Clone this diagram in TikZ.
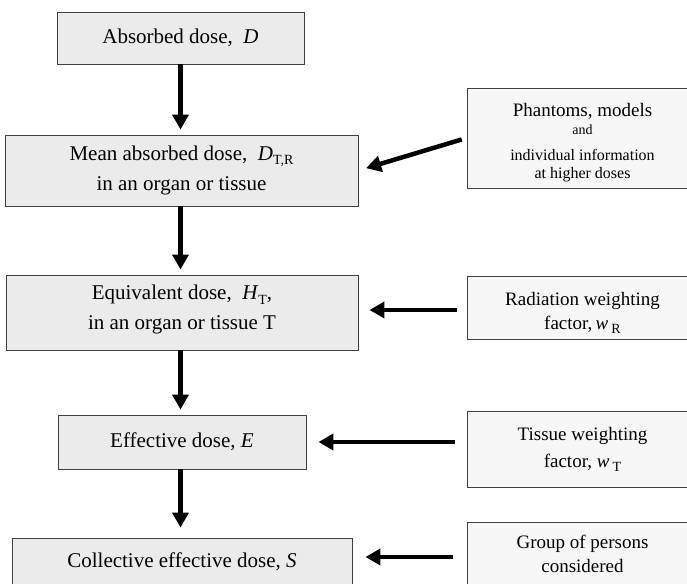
\documentclass[tikz,border=0pt]{standalone}
\usepackage{fontspec}
\setmainfont{Liberation Serif}
\usetikzlibrary{calc, arrows.meta}

\newcommand{\lowsub}[1]{\raisebox{-0.45ex}{\fontsize{14}{14}\selectfont #1}}

\tikzset{
    dosebox/.style = {draw = black!75, fill = black!8, line width = 0.9pt, inner sep = 0pt, align = center, font = \fontsize{21}{30}\selectfont},
    inputbox/.style = {draw = black!75, fill = black!3, line width = 0.9pt, inner sep = 0pt, align = center, font = \fontsize{19}{24}\selectfont},
    flow/.style = {black, line width = 4.5pt, -{Triangle[length = 15pt, width = 16pt]}}
}

\begin{document}
\begin{tikzpicture}[x = 1pt, y = -1pt]
            \useasboundingbox (0, 0) rectangle (687, 583);
            \clip (0, 0) rectangle (687, 583);
            
            \coordinate (left_col) at (182, 0);
            \coordinate (right_col) at (582.5, 0);
            
            % dose chain
            \node[dosebox, minimum width = 247pt, minimum height = 52pt] (absorbed) at ($(left_col) + (-1.5, 38)$) {Absorbed dose,~ \textit{D}};
            \node[dosebox, minimum width = 353pt, minimum height = 71pt] (mean) at ($(left_col) + (-0.5, 170.5)$) {Mean absorbed dose,~ \textit{D}\lowsub{T,R}\\in an organ or tissue};
            \node[dosebox, minimum width = 352pt, minimum height = 75pt] (equiv) at ($(left_col) + (0, 312.5)$) {Equivalent dose,~ \textit{H}\lowsub{T},\\in an organ or tissue T\rule[-10pt]{0pt}{10pt}};
            \node[dosebox, minimum width = 248pt, minimum height = 54pt] (effective) at ($(left_col) + (0, 442)$) {Effective dose, \textit{E}};
            \node[dosebox, minimum width = 340pt, minimum height = 48pt] (collective) at ($(left_col) + (0, 562)$) {Collective effective dose, \textit{S}};
            
            % inputs
            \node[inputbox, minimum width = 231pt, minimum height = 100pt] (phantoms) at ($(right_col) + (0, 138)$) {\rule{0pt}{22pt}Phantoms, models\\[-6pt]{\fontsize{14}{14}\selectfont and}\\[2pt]{\fontsize{16}{16}\selectfont individual information}\\[-6pt]{\fontsize{16}{16}\selectfont at higher doses}};
            \node[inputbox, minimum width = 231pt, minimum height = 63pt] (radiation) at ($(right_col) + (0, 307.5)$) {\rule{0pt}{24pt}Radiation weighting\\factor,\,\textit{w}\,\lowsub{R}};
            \node[inputbox, minimum width = 231pt, minimum height = 76pt] (tissue) at ($(right_col) + (0, 449)$) {Tissue weighting\\[3pt]factor, \textit{w}\,\lowsub{T}};
            \node[inputbox, minimum width = 231pt, minimum height = 63pt] (group) at ($(right_col) + (0, 553.5)$) {Group of persons\\considered};
            
            \draw[flow, shorten >= 5pt] (absorbed.south) -- (absorbed.south |- mean.north);
            \draw[flow, shorten >= 5pt] (mean.south -| absorbed.south) -- (absorbed.south |- equiv.north);
            \draw[flow, shorten >= 5pt] (equiv.south -| absorbed.south) -- (absorbed.south |- effective.north);
            \draw[flow, shorten >= 10pt] (effective.south -| absorbed.south) -- (absorbed.south |- collective.north);
            
            \draw[flow, shorten <= 5pt, shorten >= 8pt] (phantoms.west) -- (mean.east);
            \draw[flow, shorten <= 10pt, shorten >= 11pt] ($(radiation.west) + (0, 2.5)$) -- ($(radiation.west -| equiv.east) + (0, 2.5)$);
            \draw[flow, shorten <= 12pt, shorten >= 12pt] (tissue.west |- effective.east) -- (effective.east);
            \draw[flow, shorten <= 14pt, shorten >= 13pt] ($(group.west) + (0, 3.5)$) -- ($(group.west -| collective.east) + (0, 3.5)$);
            
        \end{tikzpicture}
\end{document}
